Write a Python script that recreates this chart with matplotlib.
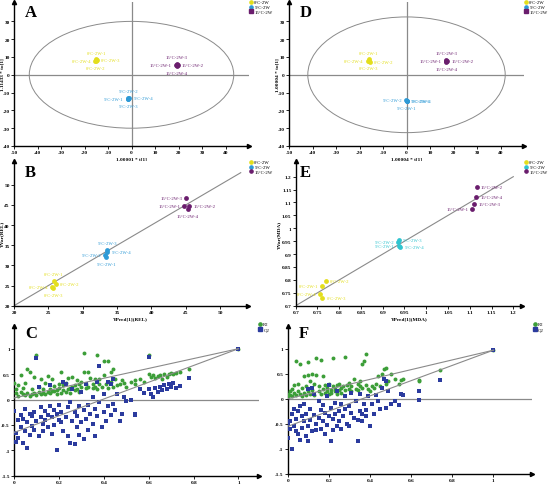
import matplotlib
matplotlib.use('Agg')
import matplotlib.pyplot as plt
from matplotlib.patches import Ellipse
from matplotlib.lines import Line2D
from matplotlib.ticker import FuncFormatter

plt.rcParams['font.family'] = ['Liberation Serif', 'DejaVu Serif']

# sample names, order: 0°C 1-4, 5°C 1-4, 15°C 1-4
names = ['0°C-2W-1', '0°C-2W-2', '0°C-2W-3', '0°C-2W-4',
         '5°C-2W-1', '5°C-2W-2', '5°C-2W-3', '5°C-2W-4',
         '15°C-2W-1', '15°C-2W-2', '15°C-2W-3', '15°C-2W-4']
groups = ['0°C-2W', '5°C-2W', '15°C-2W']

# panel A: scores t[1] / to[1]
a_x = [-15.0, -15.2, -14.6, -15.4, -1.6, -1.3, -1.3, -1.0, 18.8, 19.6, 19.2, 19.3]
a_y = [8.6, 7.6, 8.1, 8.0, -13.4, -12.8, -13.8, -13.3, 5.3, 5.5, 5.9, 5.0]
a_pos = ['u', 'd', 'r', 'l', 'l', 'u', 'd', 'r', 'l', 'r', 'u', 'd']

# panel D
d_x = [-16.0, -15.5, -16.0, -16.4, 0.0, -0.2, 0.2, 0.3, 16.6, 17.4, 17.0, 17.0]
d_y = [8.6, 7.2, 7.5, 8.0, -15.0, -14.4, -14.6, -14.8, 7.6, 7.8, 8.1, 7.3]
d_pos = ['u', 'r', 'd', 'l', 'd', 'l', 'r', 'r', 'l', 'r', 'u', 'd']

# panel B: YVar(REL) vs YPred
b_x = [25.8, 26.1, 25.7, 25.6, 33.4, 33.3, 33.6, 33.6, 44.8, 45.5, 45.1, 45.3]
b_y = [26.1, 25.5, 24.5, 24.7, 32.1, 32.6, 33.9, 33.2, 44.8, 44.8, 46.6, 44.0]
b_pos = ['u', 'r', 'd', 'l', 'd', 'l', 'u', 'r', 'l', 'r', 'l', 'd']

# panel E: YVar(MDA) vs YPred
e_x = [0.761, 0.769, 0.761, 0.756, 0.937, 0.936, 0.937, 0.940, 1.106, 1.116, 1.110, 1.115]
e_y = [0.778, 0.797, 0.728, 0.745, 0.933, 0.948, 0.955, 0.929, 1.075, 1.159, 1.094, 1.122]
e_pos = ['l', 'r', 'r', 'l', 'l', 'l', 'r', 'r', 'l', 'r', 'r', 'r']

# panel C: permutation test (REL)
c_x = [0.00, 0.01, 0.01, 0.02, 0.02, 0.03, 0.03, 0.04, 0.04, 0.05, 0.05, 0.06, 0.06, 0.07,
       0.07, 0.08, 0.08, 0.09, 0.09, 0.10, 0.10, 0.11, 0.11, 0.12, 0.12, 0.13, 0.13, 0.14,
       0.14, 0.15, 0.15, 0.16, 0.16, 0.17, 0.17, 0.18, 0.18, 0.19, 0.19, 0.20, 0.20, 0.21,
       0.21, 0.22, 0.22, 0.23, 0.23, 0.24, 0.24, 0.25, 0.25, 0.26, 0.26, 0.27, 0.27, 0.28,
       0.28, 0.29, 0.29, 0.30, 0.30, 0.31, 0.31, 0.32, 0.32, 0.33, 0.33, 0.34, 0.35, 0.35,
       0.36, 0.36, 0.37, 0.37, 0.38, 0.38, 0.39, 0.40, 0.40, 0.41, 0.42, 0.42, 0.43, 0.43,
       0.44, 0.44, 0.45, 0.46, 0.47, 0.48, 0.49, 0.50, 0.52, 0.54, 0.54, 0.56, 0.58, 0.60,
       0.60, 0.61, 0.62, 0.63, 0.64, 0.65, 0.66, 0.67, 0.68, 0.69, 0.70, 0.71, 0.72, 0.74,
       0.78, 1.00]
c_r2 = [0.33, 0.20, 0.12, 0.28, 0.06, 0.48, 0.15, 0.22, 0.10, 0.09, 0.33, 0.60, 0.12, 0.07,
        0.55, 0.10, 0.20, 0.13, 0.45, 0.88, 0.08, 0.15, 0.25, 0.10, 0.40, 0.12, 0.20, 0.10,
        0.33, 0.14, 0.46, 0.13, 0.20, 0.17, 0.40, 0.16, 0.26, 0.18, 0.10, 0.30, 0.22, 0.55,
        0.12, 0.28, 0.18, 0.15, 0.32, 0.20, 0.42, 0.22, 0.13, 0.25, 0.45, 0.18, 0.28, 0.38,
        0.20, 0.30, 0.15, 0.25, 0.35, 0.92, 0.55, 0.22, 0.30, 0.55, 0.25, 0.42, 0.22, 0.30,
        0.40, 0.25, 0.88, 0.20, 0.40, 0.30, 0.25, 0.75, 0.48, 0.30, 0.75, 0.22, 0.55, 0.35,
        0.60, 0.25, 0.40, 0.28, 0.30, 0.38, 0.33, 0.25, 0.35, 0.30, 0.38, 0.40, 0.35, 0.88,
        0.50, 0.45, 0.48, 0.42, 0.47, 0.48, 0.40, 0.50, 0.45, 0.50, 0.52, 0.50, 0.52, 0.55,
        0.60, 1.00]
c_q2 = [-0.22, -0.65, -0.84, -0.40, -0.75, -0.30, -0.55, -0.85, -0.38, -0.62, -0.18, -0.95,
        -0.45, -0.28, -0.70, -0.32, -0.52, -0.25, -0.60, 0.82, -0.42, -0.72, 0.25, -0.35,
        -0.15, -0.48, -0.62, -0.22, -0.40, -0.55, -0.30, 0.28, -0.12, -0.68, -0.35, -0.20,
        -0.50, -1.00, -0.28, -0.40, -0.10, -0.45, -0.25, 0.35, -0.62, -0.35, 0.30, -0.72,
        -0.15, -0.85, -0.05, -0.42, 0.20, -0.88, -0.25, -0.55, -0.32, -0.12, -0.70, 0.15,
        -0.45, -0.78, -0.20, 0.30, -0.38, -0.60, -0.10, -0.28, 0.05, -0.48, -0.72, -0.18,
        0.35, -0.32, 0.65, -0.05, -0.55, 0.10, -0.25, -0.42, 0.35, -0.12, 0.30, -0.30,
        0.40, -0.08, -0.20, 0.10, -0.42, -0.28, 0.05, -0.02, 0.00, -0.30, -0.28, 0.20,
        0.12, 0.83, 0.20, 0.10, 0.05, 0.22, 0.15, 0.25, 0.18, 0.28, 0.20, 0.30, 0.25,
        0.32, 0.22, 0.26, 0.42, 1.00]
c_r2_line = [0.03, 1.00]
c_q2_line = [-0.65, 1.00]

# panel F: permutation test (MDA)
f_x = [0.00, 0.00, 0.01, 0.01, 0.02, 0.02, 0.03, 0.03, 0.04, 0.04, 0.05, 0.05, 0.06, 0.06,
       0.07, 0.07, 0.08, 0.08, 0.09, 0.09, 0.10, 0.10, 0.10, 0.11, 0.11, 0.12, 0.12, 0.13,
       0.13, 0.14, 0.14, 0.15, 0.15, 0.16, 0.16, 0.17, 0.17, 0.18, 0.18, 0.19, 0.19, 0.20,
       0.20, 0.21, 0.21, 0.22, 0.22, 0.23, 0.23, 0.24, 0.24, 0.25, 0.25, 0.26, 0.26, 0.27,
       0.28, 0.28, 0.29, 0.30, 0.30, 0.31, 0.31, 0.32, 0.33, 0.34, 0.34, 0.35, 0.35, 0.36,
       0.36, 0.37, 0.38, 0.38, 0.39, 0.40, 0.41, 0.42, 0.43, 0.44, 0.45, 0.46, 0.47, 0.48,
       0.48, 0.49, 0.50, 0.52, 0.54, 0.55, 0.56, 0.64, 0.64, 0.74, 1.00]
f_r2 = [0.05, 0.10, 0.08, 0.15, 0.05, 0.20, 0.12, 0.28, 0.75, 0.08, 0.15, 0.30, 0.70, 0.10,
        0.22, 0.05, 0.45, 0.12, 0.25, 0.08, 0.73, 0.48, 0.15, 0.10, 0.35, 0.50, 0.18, 0.08,
        0.30, 0.82, 0.48, 0.15, 0.25, 0.78, 0.10, 0.20, 0.45, 0.12, 0.28, 0.15, 0.22, 0.10,
        0.30, 0.18, 0.12, 0.82, 0.25, 0.15, 0.20, 0.28, 0.10, 0.18, 0.30, 0.22, 0.12, 0.25,
        0.83, 0.18, 0.28, 0.20, 0.32, 0.15, 0.25, 0.40, 0.20, 0.30, 0.18, 0.25, 0.35, 0.70,
        0.22, 0.75, 0.90, 0.28, 0.20, 0.15, 0.25, 0.22, 0.30, 0.45, 0.25, 0.50, 0.60, 0.62,
        0.30, 0.35, 0.50, 0.40, 0.30, 0.38, 0.40, 0.38, 0.35, 0.57, 0.97]
f_q2 = [-0.78, -0.50, -0.45, -0.60, -1.00, -0.30, -0.55, -0.20, -0.65, -0.40, -0.25, -0.70,
        -0.15, -0.82, -0.35, -0.58, -0.10, -0.45, -0.75, -0.30, 0.20, -0.55, -0.85, -0.20,
        -0.42, 0.22, -0.65, -0.32, 0.10, -0.62, -0.50, -0.05, -0.38, -0.22, -0.60, -0.45,
        -0.12, -0.70, -0.28, 0.05, -0.52, -0.35, 0.28, -0.85, -0.18, -0.40, -0.62, -0.08,
        -0.30, -0.55, 0.15, -0.25, -0.45, -0.60, -0.10, -0.35, -0.20, 0.05, -0.50, -0.15,
        -0.55, 0.12, -0.28, -0.38, -0.05, -0.85, -0.42, 0.10, -0.25, -0.30, -0.45, -0.10,
        -0.35, -0.22, 0.05, -0.55, -0.10, -0.30, 0.08, -0.05, -0.20, 0.22, 0.40, 0.35,
        -0.18, 0.15, -0.10, -0.05, -0.12, 0.10, 0.08, 0.15, -0.03, 0.38, 0.97]
f_r2_line = [0.00, 0.97]
f_q2_line = [-0.55, 0.97]

YEL = '#e3de1c'
CYAN_A = '#2e9ad6'
CYAN_E = '#30c4cf'
PURP = '#6a1d6d'
GREEN = '#3c9e38'
BLUE = '#2b3b9e'
GREY = '#8a8a8a'

W, H = 550, 485
fig = plt.figure(figsize=(W / 100, H / 100), dpi=100)

OFFS = {'u': ((0, 5), 'center', 'center'), 'd': ((0, -5), 'center', 'center'),
        'l': ((-3, 0), 'right', 'center'), 'r': ((3, 0), 'left', 'center')}


def make_ax(l, r, top, bottom):
    return fig.add_axes([l / W, 1 - bottom / H, (r - l) / W, (bottom - top) / H])


def style(ax, xlim, ylim, xticks, yticks):
    ax.set_xlim(*xlim)
    ax.set_ylim(*ylim)
    ax.set_xticks(xticks)
    ax.set_yticks(yticks)
    fmt = FuncFormatter(lambda v, p: f'{v:g}')
    ax.xaxis.set_major_formatter(fmt)
    ax.yaxis.set_major_formatter(fmt)
    for s in ['top', 'right']:
        ax.spines[s].set_visible(False)
    for s in ['left', 'bottom']:
        ax.spines[s].set_linewidth(1.0)
    ax.tick_params(labelsize=3.8, length=2, width=0.6, pad=1)
    for t in ax.get_xticklabels() + ax.get_yticklabels():
        t.set_fontweight('bold')
    ax.plot([1], [0], marker='>', ms=3, color='k', transform=ax.transAxes, clip_on=False)
    ax.plot([0], [1], marker='^', ms=3, color='k', transform=ax.transAxes, clip_on=False)


def labels(ax, xl, yl, l, r, gap=9.5):
    ax.set_xlabel(xl, fontsize=3.8, fontweight='bold', labelpad=1.5)
    ax.set_ylabel(yl, fontsize=3.8, fontweight='bold')
    # y label sits a few px left of the tick labels, like the reference
    ax.yaxis.set_label_coords(-gap / (r - l), 0.5)


def sample_points(ax, xs, ys, pos, cols):
    for i, name in enumerate(names):
        c = cols[i // 4]
        ax.scatter(xs[i], ys[i], s=12, color=c, zorder=3, linewidths=0)
        off, ha, va = OFFS[pos[i]]
        ax.annotate(name, (xs[i], ys[i]), xytext=off, textcoords='offset points',
                    ha=ha, va=va, fontsize=3.4, color=c)


def legend(x, y, labels, cols, markers):
    hs = [Line2D([], [], ls='', marker=m, color=c, ms=2.3) for c, m in zip(cols, markers)]
    fig.legend(hs, labels, loc='upper left', bbox_to_anchor=(x / W, 1 - y / H),
               fontsize=3.4, frameon=False, handlelength=0.6, handletextpad=0.3,
               labelspacing=0.12, borderpad=0, borderaxespad=0)


def letter(x, y, s):
    fig.text(x / W, 1 - y / H, s, fontsize=12, fontweight='bold', va='top', ha='left')


# ---- A / D score plots
for (l, r, xs, ys, pos, ell, xl, yl, cyan, lx, let) in [
        (14, 249, a_x, a_y, a_pos, (87, 60), '1.00001 * t[1]', '1.11433 * to[1]', CYAN_A, 250, 'A'),
        (289, 524, d_x, d_y, d_pos, (84, 65), '1.00004 * t[1]', '1.00004 * to[1]', CYAN_A, 525, 'D')]:
    ax = make_ax(l, r, 2.8, 147)
    style(ax, (-50, 50), (-40, 41), range(-50, 41, 10), range(-40, 31, 10))
    ax.axhline(0, color=GREY, lw=0.9)
    ax.axvline(0, color=GREY, lw=0.9)
    ax.add_patch(Ellipse((0, 0), ell[0], ell[1], fill=False, ec=GREY, lw=0.7))
    sample_points(ax, xs, ys, pos, [YEL, cyan, PURP])
    labels(ax, xl, yl, l, r)
    legend(lx, 1, groups, [YEL, cyan, PURP], ['o', 'o', 's'])
    letter(l + 11, 5, let)

# ---- B observed vs predicted (REL)
ax = make_ax(14, 247.6, 161.6, 306.7)
style(ax, (20, 54), (20, 56), range(20, 51, 5), range(20, 51, 5))
ax.plot([20, 53], [20, 53], color=GREY, lw=0.8)
sample_points(ax, b_x, b_y, b_pos, [YEL, CYAN_A, PURP])
labels(ax, 'YPred[1](REL)', 'YVar(REL)', 14, 247.6)
legend(250, 161, groups, [YEL, CYAN_A, PURP], ['o', 'o', 'o'])
letter(25, 165, 'B')

# ---- E observed vs predicted (MDA)
ax = make_ax(295.7, 522, 162.2, 306.7)
style(ax, (0.7, 1.22), (0.7, 1.26),
      [0.7 + 0.05 * i for i in range(11)], [0.7 + 0.05 * i for i in range(11)])
ax.plot([0.7, 1.2], [0.7, 1.2], color=GREY, lw=0.8)
sample_points(ax, e_x, e_y, e_pos, [YEL, CYAN_E, PURP])
labels(ax, 'YPred[1](MDA)', 'YVar(MDA)', 295.7, 522, gap=14.5)
legend(525, 161, groups, [YEL, CYAN_E, PURP], ['o', 'o', 'o'])
letter(300, 165, 'E')

# ---- C / F permutation plots
for (l, r, bot, xmax, xs, r2, q2, r2l, q2l, lx, let) in [
        (14, 258.7, 476.7, 1.09, c_x, c_r2, c_q2, c_r2_line, c_q2_line, 259, 'C'),
        (287.7, 532.4, 475, 1.19, f_x, f_r2, f_q2, f_r2_line, f_q2_line, 534, 'F')]:
    ax = make_ax(l, r, bot - 2.95 * (bot - 349.7) / 2.5, bot)
    style(ax, (0, xmax), (-1.5, 1.45), [0, 0.2, 0.4, 0.6, 0.8, 1], [-1.5, -1, -0.5, 0, 0.5, 1])
    ax.axhline(0, color=GREY, lw=0.9)
    ax.plot([0, 1], r2l, color=GREY, lw=0.8, zorder=4)
    ax.plot([0, 1], q2l, color=GREY, lw=0.8, zorder=4)
    ax.scatter(xs, r2, s=8, color=GREEN, marker='o', linewidths=0, zorder=3)
    ax.scatter(xs, q2, s=7, color=BLUE, marker='s', linewidths=0, zorder=3)
    legend(lx, 323, ['R2', 'Q2'], [GREEN, BLUE], ['o', 's'])
    letter(l + 11, 326, let)

fig.savefig('out.png', dpi=100)
